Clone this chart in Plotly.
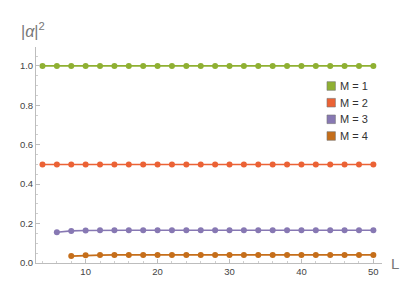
import plotly.graph_objects as go

# ---- data ----
L_m1 = list(range(4, 51, 2))
y_m1 = [1.0] * len(L_m1)
L_m2 = list(range(4, 51, 2))
y_m2 = [0.5] * len(L_m2)
L_m3 = list(range(6, 51, 2))
y_m3 = [0.156, 0.163, 0.165] + [0.1665] * (len(L_m3) - 3)
L_m4 = list(range(8, 51, 2))
y_m4 = [0.035, 0.039, 0.040] + [0.041] * (len(L_m4) - 3)

names = ["M = 1", "M = 2", "M = 3", "M = 4"]
colors = ["#8FB032", "#EB6235", "#8778B3", "#C56E1A"]
xs = [L_m1, L_m2, L_m3, L_m4]
ys = [y_m1, y_m2, y_m3, y_m4]

x_ticks = [10, 20, 30, 40, 50]
y_ticks = [0.0, 0.2, 0.4, 0.6, 0.8, 1.0]

# page body has an 8px default margin; work in page pixel coords
OFF = 8
W, H = 416 - OFF, 298 - OFF
left_px, right_px, top_px, bot_px = 33, 382, 47, 263
ml = left_px - OFF
mt = top_px - OFF
mr = W - (right_px - OFF)
mb = H - (bot_px - OFF)
pw, ph = W - ml - mr, H - mt - mb

def px_x(p):
    return (p - left_px) / pw

def px_y(p):
    return (bot_px - p) / ph

fig = go.Figure()
for x, y, n, c in zip(xs, ys, names, colors):
    fig.add_trace(go.Scatter(x=x, y=y, mode="lines+markers", name=n,
                             line=dict(color=c, width=1.6),
                             marker=dict(color=c, size=6),
                             showlegend=False))

axis_common = dict(showgrid=False, zeroline=False, showline=True,
                   linecolor="#bdbdbd", linewidth=1, ticks="inside",
                   ticklen=4, tickcolor="#bdbdbd",
                   tickfont=dict(family="Liberation Sans, Arial", size=9.5, color="#444"))

fig.update_xaxes(range=[3.1, 51.2], tickvals=x_ticks,
                 ticktext=[str(v) for v in x_ticks],
                 minor=dict(ticks="inside", ticklen=2, tickcolor="#cfcfcf", dtick=2, tick0=0),
                 **axis_common)
fig.update_yaxes(range=[0, 1.096], tickvals=y_ticks,
                 ticktext=[f"{v:.1f}" for v in y_ticks],
                 minor=dict(ticks="inside", ticklen=2, tickcolor="#cfcfcf", dtick=0.05, tick0=0),
                 **axis_common)

# legend drawn manually
row_y = [86, 102.7, 119.3, 136]
shapes = []
annotations = []
for ry, n, c in zip(row_y, names, colors):
    shapes.append(dict(type="rect", xref="paper", yref="paper",
                       x0=px_x(326.5), x1=px_x(335), y0=px_y(ry + 4.3), y1=px_y(ry - 4.3),
                       fillcolor=c, line=dict(color="#777", width=0.6)))
    annotations.append(dict(xref="paper", yref="paper", x=px_x(338), y=px_y(ry),
                            xanchor="left", yanchor="middle", showarrow=False,
                            text=n, font=dict(family="Liberation Sans, Arial", size=11, color="#333")))

annotations.append(dict(xref="paper", yref="paper", x=px_x(16), y=px_y(30),
                        xanchor="left", yanchor="middle", showarrow=False,
                        text="|<i>α</i>|<sup>2</sup>",
                        font=dict(family="Liberation Sans, Arial", size=16, color="#777")))
annotations.append(dict(xref="paper", yref="paper", x=px_x(389), y=px_y(263),
                        xanchor="left", yanchor="middle", showarrow=False,
                        text="L",
                        font=dict(family="Liberation Sans, Arial", size=15, color="#777")))

fig.update_layout(width=W, height=H, margin=dict(l=ml, r=mr, t=mt, b=mb),
                  plot_bgcolor="white", paper_bgcolor="white",
                  shapes=shapes, annotations=annotations, showlegend=False)

fig.write_html("out.html")
